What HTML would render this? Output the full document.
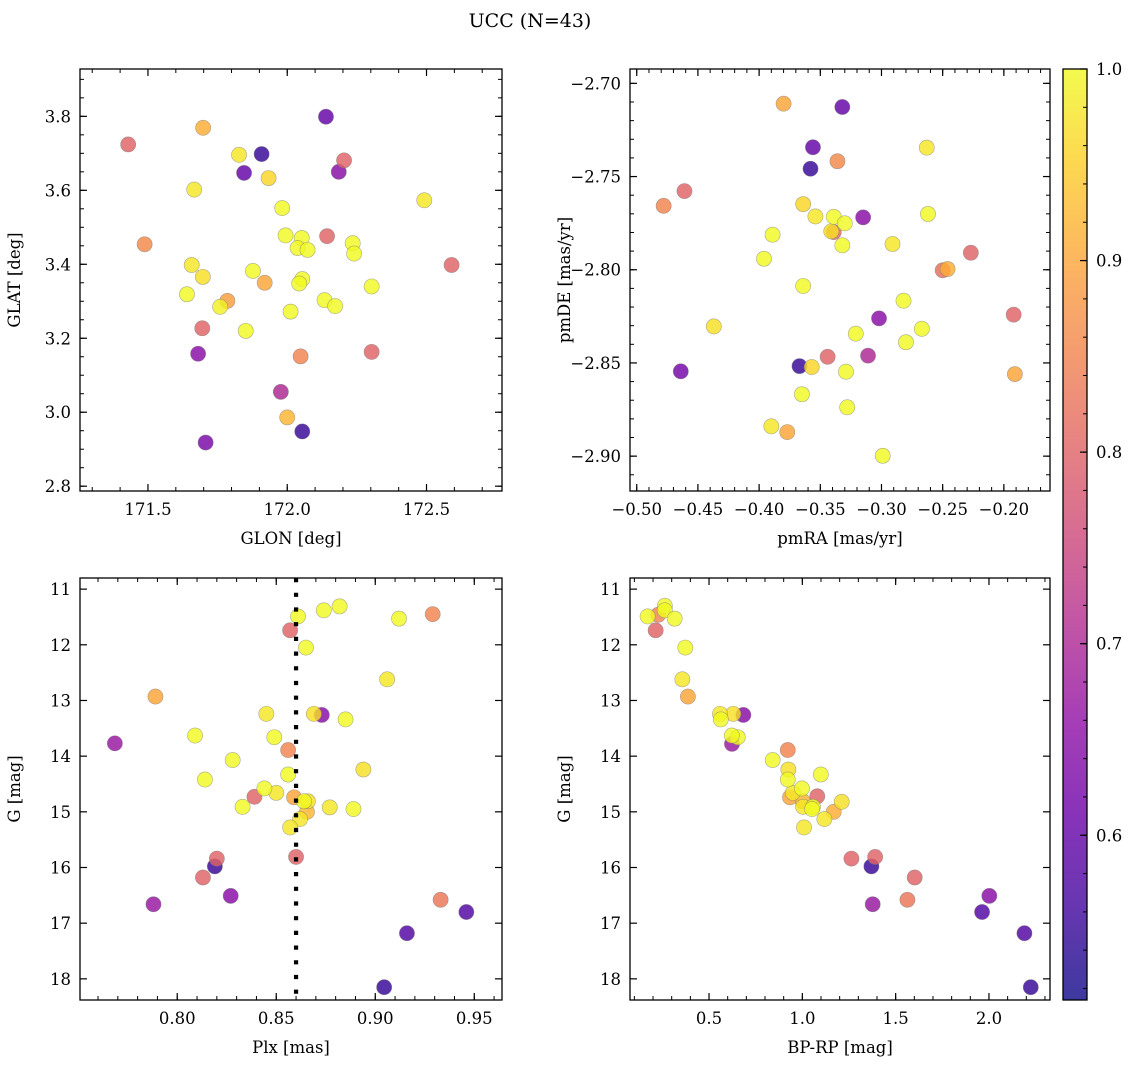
<!DOCTYPE html>
<html><head><meta charset="utf-8">
<style>
html,body{margin:0;padding:0;background:#fff;}
svg{display:block;font-family:"DejaVu Serif","Liberation Serif",serif;}
</style></head>
<body>
<svg id="fig" width="1136" height="1068" viewBox="0 0 1136 1068" xmlns="http://www.w3.org/2000/svg">
<text x="530" y="27" text-anchor="middle" font-size="19">UCC (N=43)</text>
</svg>
<script>
// ---------- data ----------
const glon=[171.429,171.698,172.139,171.827,171.908,171.845,171.933,172.204,172.185,171.666,172.492,171.982,171.488,171.994,172.052,172.143,172.037,172.073,172.235,172.240,172.590,171.657,171.697,171.877,171.919,172.054,172.043,172.303,171.640,171.785,171.759,172.134,172.172,172.012,171.695,171.851,171.680,172.048,172.303,171.977,172.000,172.054,171.707];
const glat=[3.724,3.769,3.799,3.696,3.698,3.647,3.633,3.681,3.650,3.602,3.573,3.552,3.454,3.478,3.471,3.476,3.444,3.439,3.457,3.429,3.398,3.398,3.366,3.382,3.350,3.360,3.348,3.340,3.319,3.301,3.285,3.303,3.287,3.272,3.227,3.220,3.158,3.151,3.163,3.055,2.986,2.948,2.918];
const prob1=[0.80,0.91,0.60,0.98,0.55,0.60,0.96,0.80,0.65,0.98,0.98,1.0,0.86,1.0,1.0,0.80,1.0,1.0,1.0,1.0,0.80,0.98,0.97,1.0,0.90,1.0,1.0,1.0,1.0,0.89,0.99,1.0,1.0,1.0,0.80,1.0,0.65,0.85,0.80,0.70,0.92,0.55,0.63];

const pmra=[-0.380,-0.332,-0.356,-0.263,-0.336,-0.358,-0.461,-0.478,-0.364,-0.354,-0.339,-0.330,-0.315,-0.262,-0.339,-0.341,-0.389,-0.332,-0.291,-0.396,-0.227,-0.250,-0.246,-0.364,-0.282,-0.192,-0.302,-0.437,-0.267,-0.321,-0.280,-0.344,-0.311,-0.367,-0.357,-0.464,-0.329,-0.191,-0.365,-0.328,-0.390,-0.377,-0.299];
const pmde=[-2.7109,-2.7127,-2.7343,-2.7345,-2.7418,-2.7458,-2.7578,-2.7657,-2.7648,-2.7714,-2.7716,-2.7751,-2.7719,-2.7701,-2.7798,-2.7794,-2.7812,-2.7869,-2.7862,-2.7941,-2.7909,-2.8003,-2.7996,-2.8087,-2.8166,-2.8241,-2.8261,-2.8304,-2.8317,-2.8343,-2.8389,-2.8467,-2.8461,-2.8517,-2.8522,-2.8545,-2.8547,-2.8560,-2.8668,-2.8738,-2.8840,-2.8871,-2.8998];
const prob2=[0.90,0.60,0.60,0.98,0.86,0.55,0.80,0.85,0.96,0.98,1.0,1.0,0.65,1.0,0.80,0.97,1.0,1.0,0.98,1.0,0.80,0.82,0.91,1.0,1.0,0.80,0.65,0.97,1.0,1.0,1.0,0.80,0.70,0.55,0.96,0.62,1.0,0.90,1.0,1.0,0.98,0.90,1.0];

const plx=[0.861,0.874,0.882,0.912,0.929,0.857,0.865,0.906,0.789,0.845,0.869,0.873,0.885,0.809,0.849,0.7685,0.856,0.828,0.894,0.814,0.856,0.844,0.850,0.839,0.859,0.866,0.864,0.833,0.877,0.889,0.8655,0.862,0.857,0.860,0.820,0.819,0.813,0.827,0.788,0.933,0.946,0.916,0.9045];
const gmag3=[11.49,11.38,11.31,11.53,11.45,11.74,12.05,12.62,12.93,13.24,13.24,13.26,13.34,13.63,13.66,13.77,13.89,14.07,14.24,14.42,14.33,14.58,14.66,14.73,14.74,14.81,14.81,14.91,14.92,14.95,15.00,15.13,15.28,15.81,15.84,15.98,16.18,16.51,16.66,16.58,16.80,17.18,18.15];
const prob3=[1.0,1.0,1.0,1.0,0.85,0.80,1.0,0.98,0.90,0.98,0.97,0.65,1.0,1.0,1.0,0.67,0.85,1.0,0.97,1.0,1.0,1.0,0.98,0.80,0.90,0.97,1.0,1.0,0.98,1.0,0.92,0.98,0.98,0.80,0.80,0.55,0.80,0.65,0.67,0.83,0.58,0.58,0.55];
const plxLine=[0.86];

const bprp=[0.171,0.228,0.263,0.263,0.316,0.214,0.373,0.357,0.387,0.559,0.630,0.684,0.563,0.654,0.622,0.623,0.922,0.841,1.099,0.925,0.922,0.998,0.949,1.080,0.934,1.211,1.002,1.057,1.004,1.052,1.168,1.118,1.009,1.390,1.263,1.370,1.602,2.002,1.377,1.563,1.963,2.190,2.224];
const gmag4=[11.49,11.46,11.30,11.38,11.53,11.74,12.05,12.62,12.93,13.24,13.24,13.26,13.34,13.66,13.63,13.78,13.89,14.07,14.33,14.24,14.42,14.58,14.66,14.72,14.74,14.82,14.81,14.91,14.91,14.95,15.00,15.13,15.28,15.81,15.84,15.98,16.18,16.51,16.66,16.58,16.80,17.18,18.15];
const prob4=[1.0,0.85,1.0,1.0,1.0,0.80,1.0,0.98,0.90,0.98,0.97,0.65,1.0,1.0,1.0,0.67,0.85,1.0,1.0,0.97,1.0,1.0,0.98,0.80,0.90,0.97,0.92,1.0,0.98,1.0,0.91,0.98,0.98,0.80,0.80,0.55,0.80,0.65,0.67,0.83,0.58,0.58,0.55];

const ticks1x=[171.5,172.0,172.5], ticks1y=[2.8,3.0,3.2,3.4,3.6,3.8];
const ticks2x=[-0.50,-0.45,-0.40,-0.35,-0.30,-0.25,-0.20], ticks2y=[-2.70,-2.75,-2.80,-2.85,-2.90];
const ticks3x=[0.80,0.85,0.90,0.95], ticksGy=[11,12,13,14,15,16,17,18];
const ticks4x=[0.5,1.0,1.5,2.0];
const cbTicks=[0.6,0.7,0.8,0.9,1.0];

// ---------- helpers ----------
const NS="http://www.w3.org/2000/svg";
const svg=document.getElementById('fig');
function mk(tag,attrs,parent){const e=document.createElementNS(NS,tag);for(const k in attrs)e.setAttribute(k,attrs[k]);(parent||svg).appendChild(e);return e;}
const CMIN=0.514, CMAX=1.0;
const plasma=[[13,8,135],[65,4,157],[106,0,168],[143,13,164],[177,42,144],[204,71,120],[225,100,98],[242,132,75],[252,166,54],[252,206,37],[240,249,33]];
function cmap(t){t=Math.max(0,Math.min(1,t));const f=t*10,i=Math.min(9,Math.floor(f)),r=f-i;const a=plasma[i],b=plasma[i+1];
 return 'rgb('+a.map((v,k)=>Math.round(v+(b[k]-v)*r)).join(',')+')';}
function fmt(v,d){const s=Math.abs(v).toFixed(d);return v<0?'\u2212'+s:s;}

function panel(name,x0,y0,w,h,xd,yd,xt,yt,xdec,ydec,xminor,yminor,xlabel,ylabel,ylabX){
 const g=mk('g',{});
 
 
 const sx=v=>x0+(v-xd[0])/(xd[1]-xd[0])*w;
 const sy=v=>y0+h-(v-yd[0])/(yd[1]-yd[0])*h;
 const mt=mk('g',{stroke:'#000','stroke-width':1},g);
 
 
 let s=Math.ceil(xd[0]/xminor-1e-6);
 for(let k=s;k*xminor<=xd[1];k++){const X=sx(k*xminor);mk('line',{x1:X,x2:X,y1:y0+h,y2:y0+h-4},mt);mk('line',{x1:X,x2:X,y1:y0,y2:y0+4},mt);}
 s=Math.ceil(yd[0]/yminor-1e-6);
 for(let k=s;k*yminor<=yd[1];k++){const Y=sy(k*yminor);mk('line',{x1:x0,x2:x0+4,y1:Y,y2:Y},mt);mk('line',{x1:x0+w,x2:x0+w-4,y1:Y,y2:Y},mt);}
 xt.forEach(v=>{const X=sx(v);
  mk('line',{x1:X,x2:X,y1:y0+h,y2:y0+h-7,stroke:'#000','stroke-width':1.2},g);
  mk('line',{x1:X,x2:X,y1:y0,y2:y0+7,stroke:'#000','stroke-width':1.2},g);
  const t=mk('text',{x:X,y:y0+h+24,'text-anchor':'middle','font-size':16.5},g);t.textContent=fmt(v,xdec);
  
  
 });
 yt.forEach(v=>{const Y=sy(v);
  mk('line',{x1:x0,x2:x0+7,y1:Y,y2:Y,stroke:'#000','stroke-width':1.2},g);
  mk('line',{x1:x0+w,x2:x0+w-7,y1:Y,y2:Y,stroke:'#000','stroke-width':1.2},g);
  const t=mk('text',{x:x0-9,y:Y+6,'text-anchor':'end','font-size':16.5},g);t.textContent=fmt(v,ydec);
  
  
 });
 const xl=mk('text',{x:x0+w/2,y:y0+h+53,'text-anchor':'middle','font-size':16.5},g);xl.textContent=xlabel;
 
 
 const yl=mk('text',{x:ylabX,y:y0+h/2,'text-anchor':'middle','font-size':16.5,transform:'rotate(-90 '+ylabX+' '+(y0+h/2)+')'},g);yl.textContent=ylabel;
 
 
 return {g,sx,sy,x0,y0,w,h};
}
function scatter(p,xs,ys,cs,name){
 const clip='clip-'+name;
 const cp=mk('clipPath',{id:clip},p.g);mk('rect',{x:p.x0,y:p.y0,width:p.w,height:p.h},cp);
 const g=mk('g',{'clip-path':'url(#'+clip+')'},p.g);
 
 
 const idx=xs.map((_,i)=>i).sort((a,b)=>cs[a]-cs[b]);
 idx.forEach(i=>{
  const c=mk('circle',{cx:p.sx(xs[i]),cy:p.sy(ys[i]),r:7.6,fill:cmap((cs[i]-CMIN)/(CMAX-CMIN)),'fill-opacity':0.82,stroke:'#777','stroke-opacity':0.6,'stroke-width':0.6},g);
  
  
 });
}
function frame(p){mk('rect',{x:p.x0,y:p.y0,width:p.w,height:p.h,fill:'none',stroke:'#000','stroke-width':1.3},p.g);}

const p1=panel('glon-glat-panel',80,69,422,422,[171.256,172.771],[2.787,3.928],ticks1x,ticks1y,1,1,0.1,0.05,'GLON [deg]','GLAT [deg]',20);
scatter(p1,glon,glat,prob1,'glon-glat');frame(p1);

const p2=panel('pm-panel',630,69,420,422,[-0.5055,-0.1623],[-2.9187,-2.6923],ticks2x,ticks2y,2,2,0.01,0.01,'pmRA [mas/yr]','pmDE [mas/yr]',570);
scatter(p2,pmra,pmde,prob2,'pm');frame(p2);

const p3=panel('plx-g-panel',80,578,422,422,[0.7509,0.964],[18.38,10.80],ticks3x,ticksGy,2,0,0.01,0.2,'Plx [mas]','G [mag]',20);
scatter(p3,plx,gmag3,prob3,'plx-g');
plxLine.forEach(v=>{const l=mk('line',{x1:p3.sx(v),x2:p3.sx(v),y1:p3.y0,y2:p3.y0+p3.h,stroke:'#000','stroke-width':4.2,'stroke-dasharray':'4.2 10.5'},p3.g);
 
 });
frame(p3);

const p4=panel('cmd-panel',630,578,420,422,[0.0766,2.327],[18.38,10.80],ticks4x,ticksGy,1,0,0.1,0.2,'BP-RP [mag]','G [mag]',570);
scatter(p4,bprp,gmag4,prob4,'cmd');frame(p4);

(function(){
 const x=1063,y=69,w=24,h=931;
 const g=mk('g',{});
 
 
 const defs=mk('defs',{},g);
 const lg=mk('linearGradient',{id:'cbgrad',x1:0,y1:1,x2:0,y2:0},defs);
 for(let i=0;i<=20;i++){mk('stop',{offset:(i/20),'stop-color':cmap(i/20)},lg);}
 mk('rect',{x:x,y:y,width:w,height:h,fill:'url(#cbgrad)','fill-opacity':0.8},g);
 const sy=v=>y+h-(v-CMIN)/(CMAX-CMIN)*h;
 for(let v=0.52;v<=1.0001;v+=0.02){const Y=sy(v);mk('line',{x1:x+w,x2:x+w-4,y1:Y,y2:Y,stroke:'#000','stroke-width':1},g);}
 cbTicks.forEach(v=>{const Y=sy(v);
  mk('line',{x1:x+w,x2:x+w-7,y1:Y,y2:Y,stroke:'#000','stroke-width':1.2},g);
  const t=mk('text',{x:x+w+9,y:Y+6,'font-size':16.5},g);t.textContent=v.toFixed(1);
  
  
 });
 mk('rect',{x:x,y:y,width:w,height:h,fill:'none',stroke:'#000','stroke-width':1.3},g);
})();
</script>
</body></html>
